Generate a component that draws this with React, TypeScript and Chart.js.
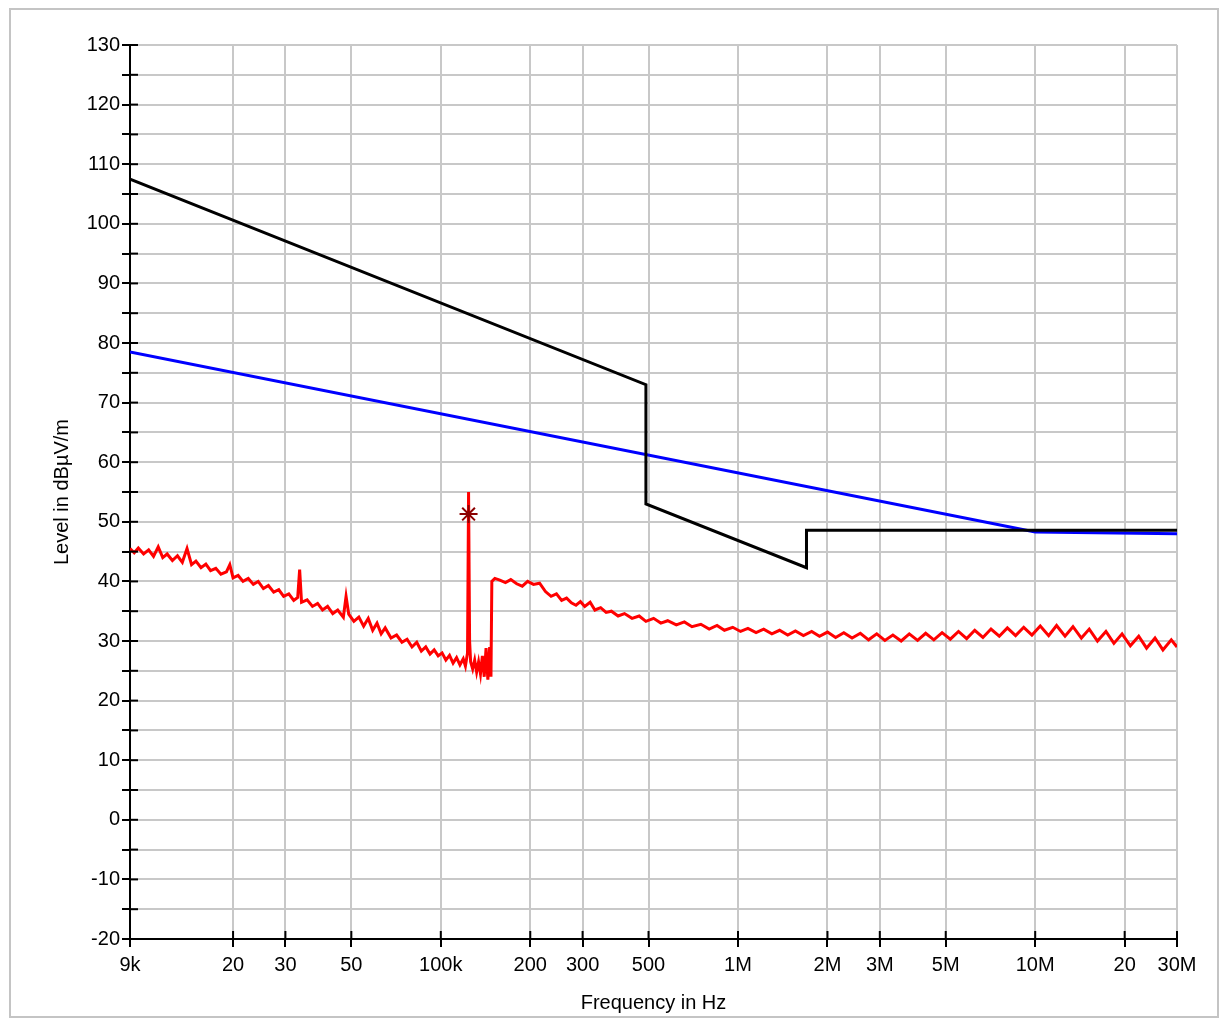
import { useEffect, useRef } from "react";
import Chart from "chart.js/auto";

// tick labels on the frequency axis
const X_TICKS = [9e3, 2e4, 3e4, 5e4, 1e5, 2e5, 3e5, 5e5, 1e6, 2e6, 3e6, 5e6, 1e7, 2e7, 3e7];
const X_LABELS = ["9k", "20", "30", "50", "100k", "200", "300", "500", "1M", "2M", "3M", "5M", "10M", "20", "30M"];

// limit lines (kHz, dBµV/m)
const BLACK_F = [9, 490, 490, 1700, 1700, 30000];
const BLACK_L = [107.5, 73, 53, 42.3, 48.6, 48.6];
const BLUE_F = [9, 10000, 30000];
const BLUE_L = [78.5, 48.3, 48.0];

// measured trace (kHz)
const TRACE_F = [
  9, 9.3, 9.6, 10, 10.4, 10.8, 11.2, 11.6, 12, 12.5, 13, 13.5, 14, 14.5, 15, 15.6, 16.2, 16.8, 17.5, 18.2, 19, 19.5, 20,
  20.8, 21.6, 22.5, 23.4, 24.3, 25.3, 26.3, 27.4, 28.5, 29.6, 30.8, 32, 33, 33.5, 34, 35.5, 37, 38.5, 40, 41.6, 43.3, 45,
  47, 48, 49, 51, 53, 55, 57, 59, 61, 63, 65, 68, 71, 74, 77, 80, 83, 86, 89, 92, 95, 98, 101, 104, 107, 110, 113, 116,
  119, 121, 123, 124, 125, 126, 128, 130, 132, 134, 136, 138, 140, 142, 144, 146, 147.5, 148.5, 152, 158, 165, 172, 180,
  188, 196, 205, 215, 225, 235, 245, 255, 265, 275, 285, 295, 305, 318, 330, 345, 360, 375, 395, 415, 440, 465, 490, 520,
  550, 580, 620, 660, 700, 750, 800, 850, 900, 960, 1020, 1080, 1150, 1220, 1300, 1380, 1470, 1560, 1660, 1770, 1880, 2000,
  2130, 2270, 2420, 2580, 2750, 2930, 3120, 3320, 3540, 3770, 4020, 4280, 4560, 4860, 5180, 5520, 5880, 6260, 6670, 7100,
  7570, 8060, 8590, 9150, 9750, 10400, 11100, 11800, 12600, 13400, 14300, 15200, 16200, 17300, 18400, 19600, 20900, 22300,
  23700, 25300, 26900, 28700, 30000,
];
const TRACE_L = [
  45.5, 44.8, 45.6, 44.6, 45.3, 44.2, 45.8, 44.0, 44.6, 43.5, 44.3, 43.2, 45.5, 42.8, 43.4, 42.3, 42.9, 41.8, 42.2, 41.2, 41.6, 42.8, 40.6,
  41.0, 40.0, 40.5, 39.5, 40.0, 38.8, 39.3, 38.2, 38.6, 37.5, 37.9, 36.8, 37.3, 42.0, 36.5, 36.9, 35.8, 36.3, 35.2, 35.8, 34.6, 35.2,
  34.0, 37.5, 34.5, 33.3, 34.0, 32.5, 33.8, 31.8, 33.0, 31.2, 32.2, 30.5, 31.0, 29.8, 30.3, 29.0, 29.8, 28.3, 29.0, 27.8, 28.5, 27.5,
  28.0, 26.8, 27.6, 26.3, 27.2, 26.0, 27.0, 25.8, 28.0, 55.0, 30.0, 26.5, 25.3, 26.8, 24.8, 26.5, 24.5, 27.5, 24.0, 28.8, 23.5, 29.0,
  24.0, 40.0, 40.5, 40.2, 39.8, 40.3, 39.6, 39.2, 40.0, 39.5, 39.7, 38.3, 37.5, 37.9, 36.8, 37.2, 36.4, 36.0, 36.6, 35.8, 36.5, 35.2,
  35.6, 34.8, 35.0, 34.2, 34.6, 33.8, 34.2, 33.3, 33.8, 33.0, 33.4, 32.7, 33.2, 32.4, 32.8, 32.0, 32.6, 31.8, 32.3, 31.6, 32.1, 31.4,
  32.0, 31.2, 31.8, 31.0, 31.7, 30.9, 31.6, 30.8, 31.5, 30.6, 31.4, 30.5, 31.3, 30.2, 31.2, 30.1, 31.0, 30.0, 31.2, 30.1, 31.3, 30.2,
  31.4, 30.3, 31.6, 30.4, 31.8, 30.6, 32.0, 30.8, 32.2, 30.9, 32.3, 31.0, 32.5, 30.9, 32.6, 30.8, 32.4, 30.5, 32.0, 30.0, 31.6, 29.6,
  31.2, 29.2, 30.8, 28.8, 30.5, 28.5, 30.2, 29.0,
];
const MARK_F = 124;
const MARK_L = 51.3;

const pts = (f: number[], l: number[]) => f.map((v, i) => ({ x: v * 1000, y: l[i] }));

const FAMILY = "'Liberation Sans', Arial, sans-serif";
const FONT = { family: FAMILY, size: 20 };

const extras = {
  id: "extras",
  afterDraw(chart: any) {
    const { ctx, chartArea: a, scales } = chart;
    ctx.save();
    ctx.strokeStyle = "#000";
    ctx.lineWidth = 2;
    for (let v = -20; v <= 130; v += 5) {
      const y = scales.y.getPixelForValue(v);
      ctx.beginPath();
      ctx.moveTo(a.left, y);
      ctx.lineTo(a.left + 8, y);
      ctx.stroke();
    }
    for (const v of X_TICKS) {
      const x = scales.x.getPixelForValue(v);
      ctx.beginPath();
      ctx.moveTo(x, a.bottom);
      ctx.lineTo(x, a.bottom - 8);
      ctx.stroke();
    }
    // axis titles
    ctx.fillStyle = "#000";
    ctx.font = `20px ${FAMILY}`;
    ctx.textAlign = "center";
    ctx.textBaseline = "middle";
    ctx.fillText("Frequency in Hz", (a.left + a.right) / 2, 1003);
    ctx.translate(62, (a.top + a.bottom) / 2);
    ctx.rotate(-Math.PI / 2);
    ctx.fillText("Level in dBµV/m", 0, 0);
    ctx.setTransform(1, 0, 0, 1, 0, 0);
    ctx.strokeStyle = "#c4c4c4";
    ctx.lineWidth = 2;
    ctx.strokeRect(10, 9, 1208, 1008);
    ctx.restore();
  },
};

export default function App() {
  const ref = useRef<HTMLCanvasElement>(null);

  useEffect(() => {
    document.body.style.margin = "0";
    if (!ref.current) return;
    const chart = new Chart(ref.current, {
      type: "line",
      data: {
        datasets: [
          {
            data: [{ x: MARK_F * 1000, y: MARK_L }],
            borderColor: "#8b0000",
            backgroundColor: "#8b0000",
            pointStyle: "star",
            pointRadius: 9,
            borderWidth: 2,
            showLine: false,
          },
          {
            data: pts(BLACK_F, BLACK_L),
            borderColor: "#000",
            borderWidth: 3,
            pointRadius: 0,
          },
          {
            data: pts(BLUE_F, BLUE_L),
            borderColor: "#0000ff",
            borderWidth: 3,
            pointRadius: 0,
          },
          {
            data: pts(TRACE_F, TRACE_L),
            borderColor: "#ff0000",
            borderWidth: 3,
            pointRadius: 0,
          },
        ],
      },
      options: {
        responsive: false,
        animation: false,
        layout: { padding: { left: 0, top: 45, right: 44, bottom: 0 } },
        plugins: { legend: { display: false }, tooltip: { enabled: false } },
        scales: {
          x: {
            type: "logarithmic",
            min: 9000,
            max: 3e7,
            afterBuildTicks: (s: any) => {
              s.ticks = X_TICKS.map((v) => ({ value: v }));
            },
            afterFit: (s: any) => {
              s.height = 80;
            },
            ticks: {
              autoSkip: false,
              maxRotation: 0,
              color: "#000",
              font: FONT,
              padding: 6,
              callback: (v: any) => {
                const i = X_TICKS.indexOf(Number(v));
                return i >= 0 ? X_LABELS[i] : "";
              },
            },
            grid: { color: "#c8c8c8", lineWidth: 2, tickColor: "#000", tickLength: 8 },
            border: { color: "#000", width: 2 },
          },
          y: {
            min: -20,
            max: 130,
            afterFit: (s: any) => {
              s.width = 130;
            },
            ticks: {
              stepSize: 5,
              color: "#000",
              font: FONT,
              padding: 2,
              callback: (v: any) => (Number(v) % 10 === 0 ? String(v) : ""),
            },
            grid: { color: "#c8c8c8", lineWidth: 2, tickColor: "#000", tickLength: 8 },
            border: { color: "#000", width: 2 },
          },
        },
      },
      plugins: [extras],
    });
    return () => chart.destroy();
  }, []);

  return <canvas ref={ref} width={1221} height={1019} style={{ display: "block" }} />;
}
